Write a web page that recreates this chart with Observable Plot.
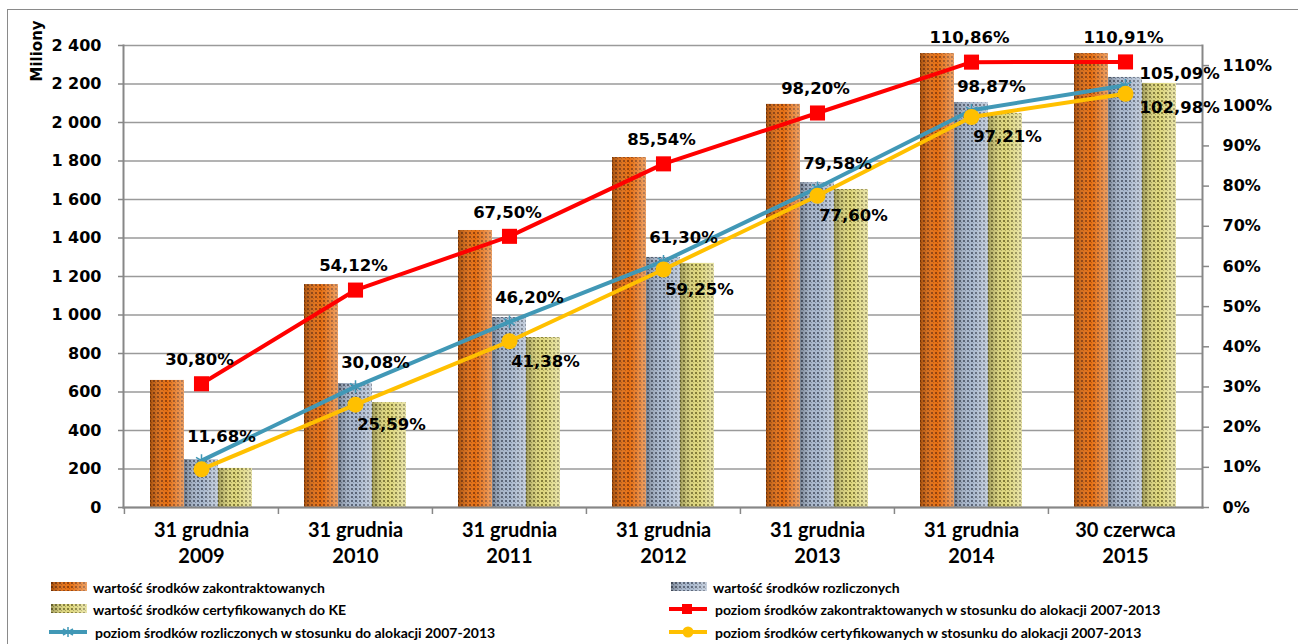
<!DOCTYPE html>
<html>
<head>
<meta charset="utf-8">
<script src="https://cdn.jsdelivr.net/npm/d3@7"></script>
<script src="https://cdn.jsdelivr.net/npm/@observablehq/plot@0.6"></script>
<style>
  body { margin: 0; background: #fff; }
  #wrap { position: relative; width: 1298px; height: 644px; overflow: hidden; background: #fff; }
  #border { position: absolute; left: 7px; top: 9px; width: 1400px; height: 800px; border: 1.5px solid #8a8a8a; box-sizing: border-box; }
  .layer { position: absolute; left: 0; top: 0; }
  .lg { position: absolute; height: 20px; display: flex; align-items: center; font-family: Lato, sans-serif; font-weight: bold; font-size: 14px; color: #000; white-space: nowrap; }
  .lg svg { margin-right: 4px; }
</style>
</head>
<body>
<div id="wrap">
  <div id="border"></div>
  <div id="bars" class="layer"></div>
  <div id="lines" class="layer"></div>
  <div id="legend"></div>
</div>
<script>
// ---------- data ----------
const dayLabels = ["31 grudnia", "31 grudnia", "31 grudnia", "31 grudnia", "31 grudnia", "31 grudnia", "30 czerwca"];
const yearLabels = ["2009", "2010", "2011", "2012", "2013", "2014", "2015"];
const barSeries = ["wartość środków zakontraktowanych", "wartość środków rozliczonych", "wartość środków certyfikowanych do KE"];
const lineSeries = [
  "poziom środków zakontraktowanych w stosunku do alokacji 2007-2013",
  "poziom środków rozliczonych w stosunku do alokacji 2007-2013",
  "poziom środków certyfikowanych w stosunku do alokacji 2007-2013"
];
// millions PLN (left axis)
const contracted = [660, 1158, 1439, 1818, 2094, 2358, 2358];
const settled    = [249, 644, 987, 1299, 1688, 2104, 2234];
const certified  = [203, 545, 883, 1268, 1652, 2047, 2203];
// percent of allocation (right axis)
const pctContracted = [30.80, 54.12, 67.50, 85.54, 98.20, 110.86, 110.91];
const pctSettled    = [11.68, 30.08, 46.20, 61.30, 79.58, 98.87, 105.09];
const pctCertified  = [9.5, 25.59, 41.38, 59.25, 77.60, 97.21, 102.98];
const certifiedLabelShown = [false, true, true, true, true, true, true];
const leftTicks = [0, 200, 400, 600, 800, 1000, 1200, 1400, 1600, 1800, 2000, 2200, 2400];
const rightTicks = [0, 10, 20, 30, 40, 50, 60, 70, 80, 90, 100, 110];

// ---------- layout ----------
const W = 1298, H = 570, ML = 123, MR = 96, MT = 45, MB = 63;
const categories = dayLabels.map((d, i) => d + "\n" + yearLabels[i]);
const step = (W - ML - MR) / categories.length;
const axisGray = "#878787";
const numFont = "DejaVu Sans, Verdana, sans-serif";
const fmtThousands = d3.formatLocale({decimal: ",", thousands: " ", grouping: [3], currency: ["", ""]}).format(",d");
const fmtPct = v => v.toFixed(2).replace(".", ",") + "%";

const barRows = [];
categories.forEach((c, i) => {
  [contracted, settled, certified].forEach((arr, s) => barRows.push({cat: c, series: barSeries[s], key: s, value: arr[i]}));
});

const barsSvg = Plot.plot({
  width: W, height: H, marginLeft: ML, marginRight: MR, marginTop: MT, marginBottom: MB,
  style: {background: "transparent", overflow: "visible", color: "#000"},
  fx: {domain: categories, padding: 0, axis: null},
  x: {domain: barSeries, paddingInner: 0, paddingOuter: 0.75, axis: null},
  y: {domain: [0, 2400]},
  color: {type: "identity"},
  marks: [
    Plot.gridY(leftTicks, {stroke: "#9a9a9a", strokeOpacity: 1, strokeWidth: 1.5}),
    Plot.barY(barRows, {fx: "cat", x: "series", y: "value", fill: d => "url(#pat" + d.key + ")", inset: 0}),
    Plot.barY(barRows, {fx: "cat", x: "series", y: "value", fill: "url(#shade)", inset: 0}),
    Plot.axisY(leftTicks, {tickSize: 6, tickPadding: 17, tickFormat: fmtThousands, stroke: axisGray, strokeWidth: 1.5,
      fontSize: 16, fontWeight: "bold", fontFamily: numFont, fill: "#000", label: null}),
    Plot.text(["Miliony"], {frameAnchor: "top-left", rotate: -90, dx: -93, dy: 36, fontSize: 15, fontWeight: "bold",
      fontFamily: numFont, fill: "#000", facetAnchor: "left"})
  ]
});

// patterns / shading
const defs = d3.select(barsSvg).insert("defs", ":first-child");
const pats = [
  {base: "#E56F12", dark: "#93400A", mid: "#BE5709"},
  {base: "#A8B7CC", dark: "#566174", mid: "#7E8CA2"},
  {base: "#DDD67C", dark: "#827B36", mid: "#ABA458"}
];
pats.forEach((p, i) => {
  const pt = defs.append("pattern").attr("id", "pat" + i).attr("patternUnits", "userSpaceOnUse").attr("width", 4).attr("height", 4);
  pt.append("rect").attr("width", 4).attr("height", 4).attr("fill", p.base);
  pt.append("rect").attr("width", 2).attr("height", 2).attr("fill", p.dark);
  pt.append("rect").attr("x", 2).attr("y", 2).attr("width", 1).attr("height", 1).attr("fill", p.mid);
});
const lg = defs.append("linearGradient").attr("id", "shade").attr("x1", 0).attr("x2", 1).attr("y1", 0).attr("y2", 0);
lg.append("stop").attr("offset", 0).attr("stop-color", "#000").attr("stop-opacity", 0.28);
lg.append("stop").attr("offset", 0.5).attr("stop-color", "#fff").attr("stop-opacity", 0);
lg.append("stop").attr("offset", 1).attr("stop-color", "#fff").attr("stop-opacity", 0.35);
document.getElementById("bars").appendChild(barsSvg);

// ---------- lines (right axis) ----------
const mk = (arr) => arr.map((v, i) => ({cat: categories[i], v, i}));
const red = mk(pctContracted), blue = mk(pctSettled), yellow = mk(pctCertified);
const last = categories.length - 1;
const redC = "#FF0000", blueC = "#4198B6", yellowC = "#FFC000";
const labelStyle = {fontSize: 16.5, fontWeight: "bold", fontFamily: numFont, fill: "#000"};
const lbl = d => fmtPct(d.v);

const linesSvg = Plot.plot({
  width: W, height: H, marginLeft: ML, marginRight: MR, marginTop: MT, marginBottom: MB,
  style: {background: "transparent", overflow: "visible", color: "#000"},
  x: {type: "point", domain: categories, padding: 0.5},
  y: {domain: [0, 115]},
  marks: [
    Plot.frame({anchor: "left", stroke: axisGray, strokeWidth: 2}),
    Plot.frame({anchor: "right", stroke: axisGray, strokeWidth: 2}),
    Plot.frame({anchor: "bottom", stroke: axisGray, strokeWidth: 2}),
    Plot.axisX(categories, {tickSize: 7, tickFormat: () => "", dx: -step / 2, stroke: axisGray, strokeWidth: 1.5, label: null}),
    Plot.axisX(categories, {tickSize: 0, tickPadding: 11, fontSize: 20, fontWeight: "bold", fontFamily: "Lato, sans-serif",
      lineHeight: 1.3, fill: "#000", label: null}),
    Plot.axisY(rightTicks, {anchor: "right", tickSize: 6, tickPadding: 14, tickFormat: d => d + "%", stroke: axisGray,
      strokeWidth: 1.5, fontSize: 16, fontWeight: "bold", fontFamily: numFont, fill: "#000", label: null}),
    Plot.lineY(red, {x: "cat", y: "v", stroke: redC, strokeWidth: 4}),
    Plot.dot(red, {x: "cat", y: "v", symbol: "square", r: 8.5, fill: redC}),
    Plot.lineY(blue, {x: "cat", y: "v", stroke: blueC, strokeWidth: 4}),
    Plot.dot(blue, {x: "cat", y: "v", symbol: "asterisk", r: 6, stroke: blueC, strokeWidth: 1.5}),
    Plot.lineY(yellow, {x: "cat", y: "v", stroke: yellowC, strokeWidth: 4}),
    Plot.dot(yellow, {x: "cat", y: "v", symbol: "circle", r: 8, fill: yellowC}),
    Plot.text(red, {x: "cat", y: "v", text: lbl, dx: -2, dy: -24, ...labelStyle}),
    Plot.text(blue.filter(d => d.i < last), {x: "cat", y: "v", text: lbl, dx: 20, dy: -24, ...labelStyle}),
    Plot.text(blue.filter(d => d.i === last), {x: "cat", y: "v", text: lbl, textAnchor: "start", dx: 14, dy: -12, ...labelStyle}),
    Plot.text(yellow.filter(d => certifiedLabelShown[d.i] && d.i < last), {x: "cat", y: "v", text: lbl, dx: 36, dy: 20, ...labelStyle}),
    Plot.text(yellow.filter(d => d.i === last), {x: "cat", y: "v", text: lbl, textAnchor: "start", dx: 14, dy: 14, ...labelStyle})
  ]
});
document.getElementById("lines").appendChild(linesSvg);

// ---------- legend ----------
const legend = document.getElementById("legend");
function barSwatch(i) {
  return `<svg width="38" height="10"><rect width="36" height="9" fill="url(#pat${i})"/><rect width="36" height="9" fill="url(#shade)"/></svg>`;
}
function lineSwatch(color, kind) {
  let m = "";
  if (kind === "square") m = `<rect x="13" y="3" width="10" height="10" fill="${color}"/>`;
  if (kind === "circle") m = `<circle cx="19" cy="8" r="5.5" fill="${color}"/>`;
  if (kind === "asterisk") m = `<path d="M19 3v10M14 5l10 6M14 11l10-6" stroke="${color}" stroke-width="1.5"/>`;
  return `<svg width="42" height="16"><line x1="0" x2="38" y1="8" y2="8" stroke="${color}" stroke-width="4"/>${m}</svg>`;
}
const items = [
  {x: 51, y: 587, sw: barSwatch(0), t: barSeries[0]},
  {x: 51, y: 609, sw: barSwatch(2), t: barSeries[2]},
  {x: 49, y: 632, sw: lineSwatch(blueC, "asterisk"), t: lineSeries[1]},
  {x: 671, y: 587, sw: barSwatch(1), t: barSeries[1]},
  {x: 669, y: 609, sw: lineSwatch(redC, "square"), t: lineSeries[0]},
  {x: 669, y: 632, sw: lineSwatch(yellowC, "circle"), t: lineSeries[2]}
];
items.forEach(it => {
  const d = document.createElement("div");
  d.className = "lg";
  d.style.left = it.x + "px";
  d.style.top = (it.y - 10) + "px";
  d.innerHTML = it.sw + `<span>${it.t}</span>`;
  legend.appendChild(d);
});
</script>
</body>
</html>
